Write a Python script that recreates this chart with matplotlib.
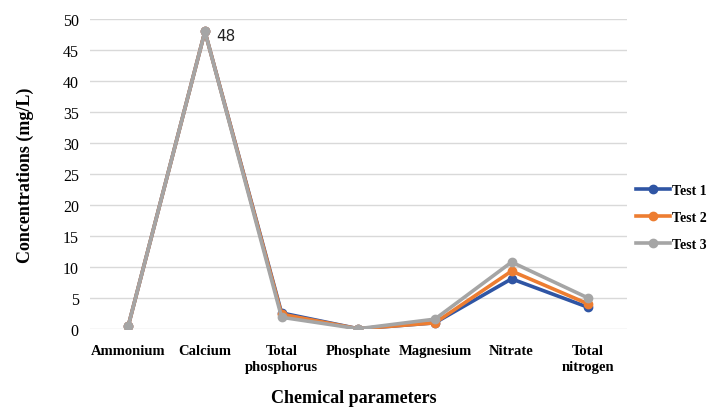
import matplotlib.pyplot as plt
import numpy as np

# chart data
categories = ['Ammonium', 'Calcium', 'Total\nphosphorus', 'Phosphate',
              'Magnesium', 'Nitrate', 'Total\nnitrogen']
test1 = [0.5, 48, 2.6, 0.05, 1.0, 8.1, 3.5]
test2 = [0.5, 48, 2.4, 0.05, 1.0, 9.35, 4.05]
test3 = [0.5, 48, 1.9, 0.05, 1.6, 10.8, 5.0]
series_names = ['Test 1', 'Test 2', 'Test 3']
y_ticks = [0, 5, 10, 15, 20, 25, 30, 35, 40, 45, 50]

colors = ['#2F55A4', '#ED7D31', '#A5A5A5']

fig = plt.figure(figsize=(7.08, 4.10), dpi=100)
ax = fig.add_axes([0.127, 0.195, 0.758, 0.756])

x = np.arange(len(categories))
for vals, name, col in zip([test1, test2, test3], series_names, colors):
    ax.plot(x, vals, color=col, linewidth=2.6, marker='o', markersize=6,
            label=name, solid_joinstyle='round')

# label for the peak
ax.annotate('48', (x[1], test3[1]), xytext=(8, -6), textcoords='offset points',
            fontsize=11, family='DejaVu Sans', color='#222222')

ax.set_xlim(-0.5, len(categories) - 0.5)
ax.set_ylim(0, 50)
ax.set_yticks(y_ticks)
ax.set_yticklabels([str(t) for t in y_ticks], family='Liberation Serif',
                   fontsize=11.5)
ax.set_xticks(x)
ax.set_xticklabels(categories, family='Liberation Serif', fontsize=10.5,
                   fontweight='bold', linespacing=1.25)
ax.tick_params(axis='x', length=0, pad=11)
ax.tick_params(axis='y', length=0, pad=8)
ax.yaxis.grid(True, color='#D9D9D9', linewidth=1)
ax.set_axisbelow(True)
for s in ax.spines.values():
    s.set_visible(False)

ax.set_ylabel('Concentrations (mg/L)', family='Liberation Serif', fontsize=13,
              fontweight='bold', labelpad=21)
fig.text(0.5, 0.028, 'Chemical parameters', family='Liberation Serif',
         fontsize=13, fontweight='bold', ha='center', va='center')

leg = ax.legend(loc='center left', bbox_to_anchor=(1.0, 0.36), frameon=False,
                prop={'family': 'Liberation Serif', 'weight': 'bold',
                      'size': 10},
                handlelength=2.4, handletextpad=0.15, labelspacing=1.0,
                borderaxespad=0.3)

fig.savefig('out.png', dpi=100)
